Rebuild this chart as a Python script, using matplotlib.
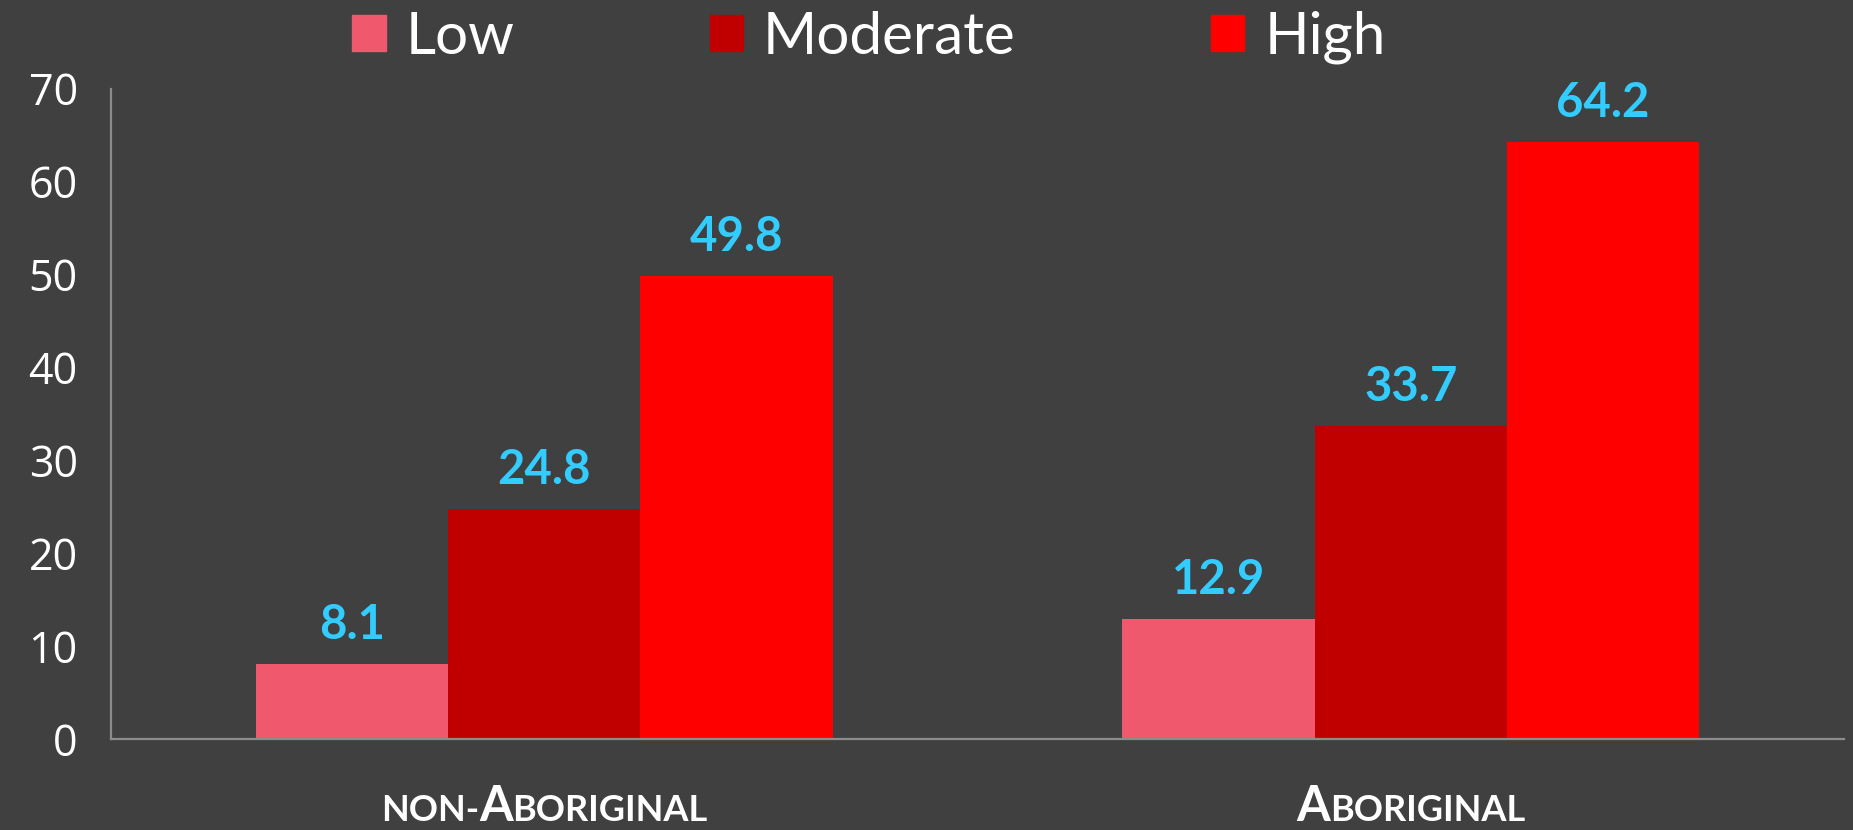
import matplotlib
matplotlib.use("Agg")
import matplotlib.pyplot as plt
import numpy as np
from matplotlib.patches import Patch

# data
groups = [[("non-", "s"), ("A", "b"), ("boriginal", "s")],
          [("A", "b"), ("boriginal", "s")]]
levels = ["Low", "Moderate", "High"]
low = [8.1, 12.9]
moderate = [24.8, 33.7]
high = [49.8, 64.2]

colors = ["#F0596D", "#C00000", "#FF0000"]
bg = "#404040"
label_col = "#33CCFF"
axis_col = "#8C8C8C"

DPI = 100
fig = plt.figure(figsize=(18.53, 8.30), dpi=DPI, facecolor=bg)
ax = fig.add_axes([0.0599, 0.1096, 0.9352, 0.7837], facecolor=bg)

x = np.arange(len(low))
w = 0.222
for i, (vals, c) in enumerate(zip([low, moderate, high], colors)):
    bars = ax.bar(x + (i - 1) * w, vals, w, color=c, label=levels[i], zorder=2)
    for b, v in zip(bars, vals):
        ax.annotate(f"{v:.1f}", (b.get_x() + b.get_width() / 2, v),
                    xytext=(0, 18), textcoords="offset points",
                    ha="center", va="baseline", color=label_col,
                    fontsize=34, fontweight="bold", family="Lato")

ax.set_xlim(-0.5, 1.5)
ax.set_ylim(0, 70)
ax.set_yticks(range(0, 71, 10))
ax.set_xticks([])
ax.tick_params(axis="y", length=0, pad=24, labelsize=31, labelcolor="white")
for t in ax.get_yticklabels():
    t.set_family("Open Sans")
for s in ["top", "right"]:
    ax.spines[s].set_visible(False)
for s in ["left", "bottom"]:
    ax.spines[s].set_color(axis_col)
    ax.spines[s].set_linewidth(1.6)

# small-caps style category labels, built from pieces
renderer = fig.canvas.get_renderer()
sizes = {"s": 26, "b": 35}
for xc, pieces in zip(x, groups):
    widths = []
    for txt, k in pieces:
        tmp = fig.text(0, 0, txt.upper(), fontsize=sizes[k], fontweight="bold", family="Lato")
        widths.append(tmp.get_window_extent(renderer).width)
        tmp.remove()
    off = -sum(widths) / 2
    for (txt, k), wd in zip(pieces, widths):
        ax.annotate(txt.upper(), (xc, 0), xycoords=("data", "axes fraction"),
                    xytext=(off * 72 / DPI, -59), textcoords="offset points",
                    ha="left", va="baseline", color="white",
                    fontsize=sizes[k], fontweight="bold", family="Lato")
        off += wd

handles = [Patch(color=c) for c in colors]
fig.legend(handles, levels, loc="center", bbox_to_anchor=(0.469, 0.955), ncol=3,
           frameon=False, prop={"family": "Lato", "size": 42}, labelcolor="white",
           handlelength=0.57, handleheight=0.57, handletextpad=0.34, columnspacing=3.35)

fig.savefig("out.png", dpi=DPI, facecolor=bg)
